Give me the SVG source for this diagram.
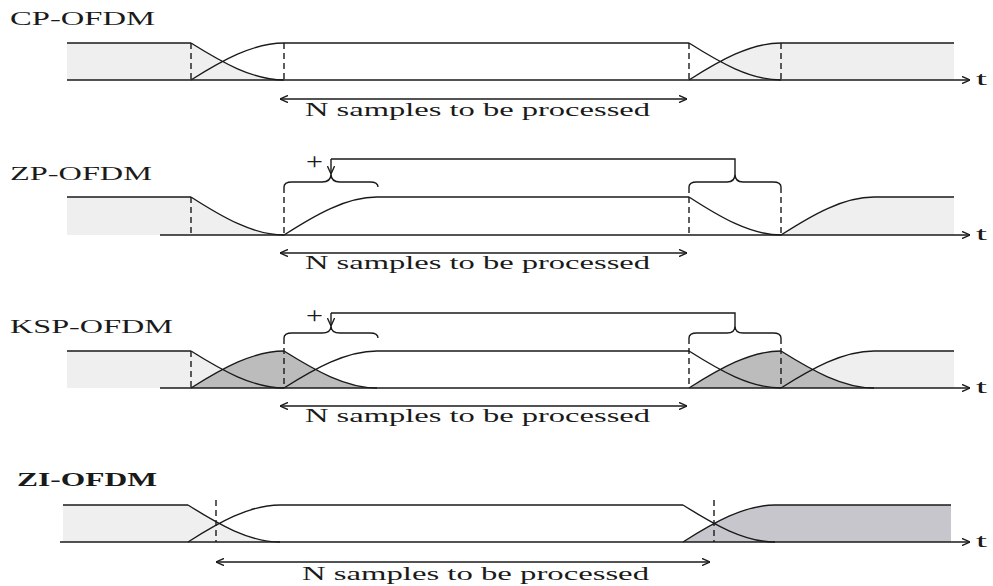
<svg xmlns="http://www.w3.org/2000/svg" width="993" height="586" viewBox="0 0 993 586">
<style>
.ln{fill:none;stroke:#1a1a1a;stroke-width:1.4}
.ds{fill:none;stroke:#1a1a1a;stroke-width:1.4;stroke-dasharray:6,4}
.lt{fill:#efefef;stroke:none}
.dk{fill:#bcbcbc;stroke:none}
.dz{fill:#c6c6cc;stroke:none}
.tx{font-family:"Liberation Serif","Times New Roman",serif;font-size:19px;fill:#1a1a1a}
.pl{font-family:"Liberation Serif","Times New Roman",serif;font-size:23px;fill:#1a1a1a}
.bd{font-weight:bold}
.ax{fill:none;stroke:#1a1a1a;stroke-width:1.4;marker-end:url(#chev)}
.dbl{fill:none;stroke:#1a1a1a;stroke-width:1.4;marker-start:url(#chev);marker-end:url(#chev)}
</style>
<defs>
<marker id="chev" viewBox="0 0 10 10" refX="10" refY="5" markerWidth="8" markerHeight="8" markerUnits="userSpaceOnUse" orient="auto-start-reverse">
<path d="M0,0.5 L10,5 L0,9.5" fill="none" stroke="#1a1a1a" stroke-width="1.7"/>
</marker>
</defs>
<rect width="993" height="586" fill="#ffffff"/>

<g id="cp-ofdm">
<text class="tx" x="10" y="25" textLength="145" lengthAdjust="spacingAndGlyphs">CP-OFDM</text>
<path class="lt" d="M67,43 H191 C222,62.4 253,80 284,80 H67 Z"/>
<path class="lt" d="M689,80 C719.7,60.6 750.3,43 781,43 H954 V80 Z"/>
<path class="ln" d="M67,43 H191 M284,43 H689 M781,43 H954"/>
<path class="ln" d="M191,43 C222,62.4 253,80 284,80 M191,80 C222,60.6 253,43 284,43"/>
<path class="ln" d="M689,43 C719.7,62.4 750.3,80 781,80 M689,80 C719.7,60.6 750.3,43 781,43"/>
<path class="ds" d="M191,43 V80 M284,43 V80 M689,43 V80 M781,43 V80"/>
<path class="ax" d="M67,80 H970"/>
<text class="tx" x="976" y="85" textLength="11" lengthAdjust="spacingAndGlyphs">t</text>
<text class="tx" x="305" y="116" textLength="345" lengthAdjust="spacingAndGlyphs">N samples to be processed</text>
</g>

<g id="zp-ofdm">
<text class="tx" x="10" y="180" textLength="142" lengthAdjust="spacingAndGlyphs">ZP-OFDM</text>
<path class="lt" d="M67,197 H191 C222,216.9 253,235 284,235 H67 Z"/>
<path class="lt" d="M781,235 C812,215.1 843,197 874,197 H954 V235 Z"/>
<path class="ln" d="M67,197 H191 M377,197 H689 M874,197 H954"/>
<path class="ln" d="M191,197 C222,216.9 253,235 284,235 M284,235 C315,215.1 346,197 377,197"/>
<path class="ln" d="M689,197 C719.7,216.9 750.3,235 781,235 M781,235 C812,215.1 843,197 874,197"/>
<path class="ds" d="M191,197 V235 M284,187 V235 M689,187 V235 M781,187 V235"/>
<path class="ax" d="M160,235 H970"/>
<text class="tx" x="976" y="240" textLength="11" lengthAdjust="spacingAndGlyphs">t</text>
<path class="ln" d="M284,187 Q284,182 292,182 L322,182 Q331,182 331,174 Q331,182 340,182 L370,182 Q378,182 378,187"/>
<path class="ln" d="M689,187 Q689,182 697,182 L727,182 Q735,182 735,174 Q735,182 743,182 L773,182 Q781,182 781,187"/>
<text class="pl" x="306" y="169" textLength="17" lengthAdjust="spacingAndGlyphs">+</text>
<text class="tx" x="305" y="269" textLength="345" lengthAdjust="spacingAndGlyphs">N samples to be processed</text>
</g>

<g id="ksp-ofdm">
<text class="tx" x="10" y="333" textLength="163" lengthAdjust="spacingAndGlyphs">KSP-OFDM</text>
<path class="lt" d="M67,351 H191 C222,370.4 253,388 284,388 H67 Z"/>
<path class="lt" d="M781,388 C812,368.6 843,351 874,351 H954 V388 Z"/>
<path class="dk" d="M191,388 C222,368.6 253,351 284,351 C315,370.4 346,388 377,388 Z"/>
<path class="dk" d="M689,388 C719.7,368.6 750.3,351 781,351 C812,370.4 843,388 874,388 Z"/>
<path class="ln" d="M67,351 H191 M377,351 H689 M874,351 H954"/>
<path class="ln" d="M191,351 C222,370.4 253,388 284,388 M191,388 C222,368.6 253,351 284,351 M284,351 C315,370.4 346,388 377,388 M284,388 C315,368.6 346,351 377,351"/>
<path class="ln" d="M689,351 C719.7,370.4 750.3,388 781,388 M689,388 C719.7,368.6 750.3,351 781,351 M781,351 C812,370.4 843,388 874,388 M781,388 C812,368.6 843,351 874,351"/>
<path class="ds" d="M191,351 V388 M284,338 V388 M689,338 V388 M781,338 V388"/>
<path class="ax" d="M160,388 H970"/>
<text class="tx" x="976" y="393" textLength="11" lengthAdjust="spacingAndGlyphs">t</text>
<path class="ln" d="M284,338 Q284,333 292,333 L322,333 Q331,333 331,326 Q331,333 340,333 L370,333 Q378,333 378,338"/>
<path class="ln" d="M689,338 Q689,333 697,333 L727,333 Q735,333 735,326 Q735,333 743,333 L773,333 Q781,333 781,338"/>
<text class="pl" x="306" y="323" textLength="17" lengthAdjust="spacingAndGlyphs">+</text>
<text class="tx" x="305" y="422" textLength="345" lengthAdjust="spacingAndGlyphs">N samples to be processed</text>
</g>

<g id="zi-ofdm">
<text class="tx bd" x="17" y="486" textLength="140" lengthAdjust="spacingAndGlyphs">ZI-OFDM</text>
<path class="lt" d="M63,505 H188 C218.7,524.4 249.3,542 280,542 H63 Z"/>
<path class="dz" d="M683,542 C713.7,522.6 744.3,505 775,505 H951 V542 Z"/>
<path class="ln" d="M63,505 H188 M280,505 H683 M775,505 H951"/>
<path class="ln" d="M188,505 C218.7,524.4 249.3,542 280,542 M188,542 C218.7,522.6 249.3,505 280,505"/>
<path class="ln" d="M683,505 C713.7,524.4 744.3,542 775,542 M683,542 C713.7,522.6 744.3,505 775,505"/>
<path class="ds" d="M216,500 V542 M714,500 V542"/>
<path class="ax" d="M60,542 H970"/>
<text class="tx" x="976" y="547" textLength="11" lengthAdjust="spacingAndGlyphs">t</text>
<text class="tx" x="302" y="580" textLength="347" lengthAdjust="spacingAndGlyphs">N samples to be processed</text>
</g>

<g id="connectors">
<path class="dbl" d="M280,99 H687"/>
<path class="dbl" d="M280,253 H687"/>
<path class="dbl" d="M280,406 H687"/>
<path class="dbl" d="M216,562 H710"/>
<path class="ax" d="M331,159 V174"/>
<path class="ln" d="M331,159 H735 V174"/>
<path class="ax" d="M331,313 V326"/>
<path class="ln" d="M331,313 H735 V326"/>
</g>
</svg>
